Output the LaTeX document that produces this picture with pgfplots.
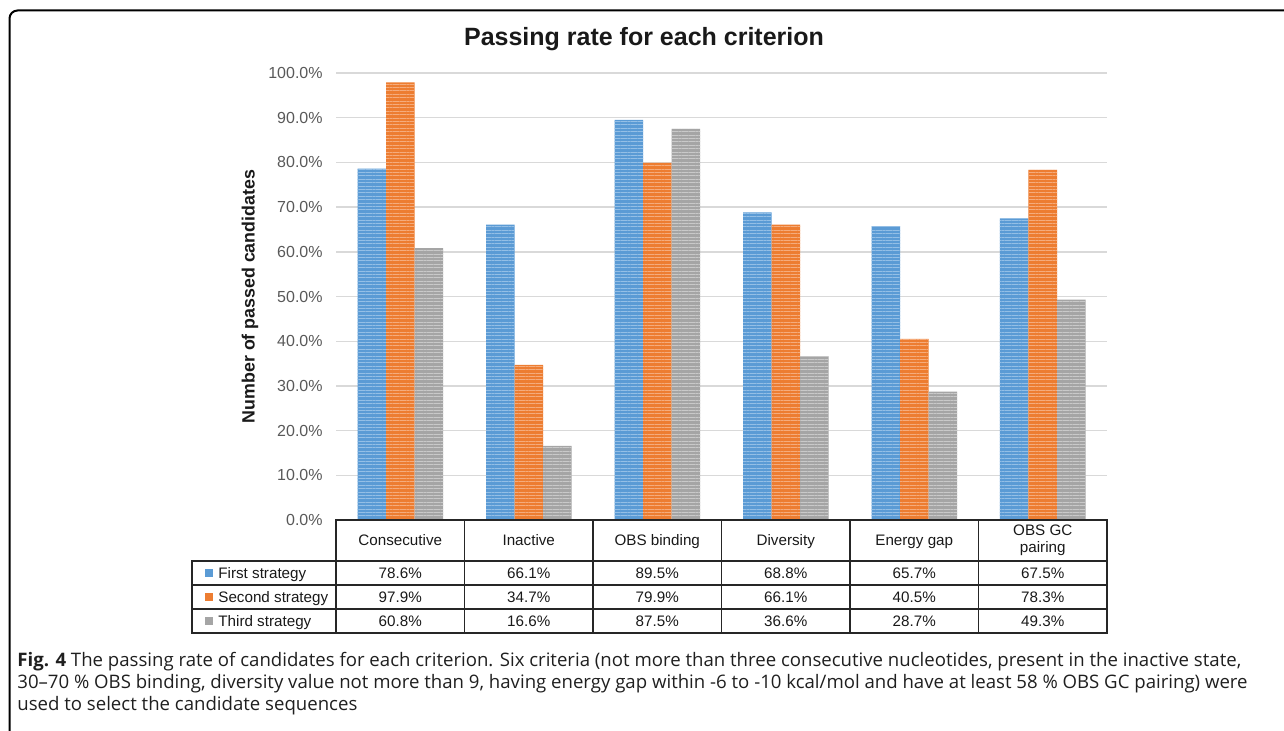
\documentclass[border=0pt]{standalone}
\usepackage{fontspec}
\usepackage{pgfplots}
\usepackage{pgfplotstable}
\pgfplotsset{compat=1.18}
\usetikzlibrary{patterns.meta}
\setmainfont{Liberation Sans}
\newfontfamily\capfont{Open Sans}

\definecolor{sblue}{HTML}{5B9BD5}
\definecolor{sorange}{HTML}{ED7D31}
\definecolor{sgrey}{HTML}{A5A5A5}
\definecolor{lblue}{HTML}{94BFE6}
\definecolor{lorange}{HTML}{F5AC7C}
\definecolor{lgrey}{HTML}{C9C9C9}
\definecolor{gridgrey}{HTML}{D9D9D9}
\definecolor{ticktext}{HTML}{595959}
\definecolor{tabline}{HTML}{262626}

% passing rates (%) per criterion
\pgfplotstableread{
x first second third
0 78.6 97.9 60.8
1 66.1 34.7 16.6
2 89.5 79.9 87.5
3 68.8 66.1 36.6
4 65.7 40.5 28.7
5 67.5 78.3 49.3
}\rates

\begin{document}
\begin{tikzpicture}[x=0.5pt,y=0.5pt]
\useasboundingbox (0,0) rectangle (1284,730);

% frame
\draw[line width=1pt, rounded corners=4pt] (1300,719.5) -- (9.5,719.5) -- (9.5,-20);

\begin{axis}[
    at={(168pt,105pt)}, anchor=south west,
    scale only axis, width=385.5pt, height=223.5pt,
    ybar=0pt, bar width=14.25pt,
    xmin=-0.5, xmax=5.5, ymin=0, ymax=100,
    xtick=\empty,
    ytick={0,10,...,100},
    yticklabel={\pgfmathprintnumber[fixed,fixed zerofill,precision=1]{\tick}\%},
    /pgf/number format/assume math mode=true,
    yticklabel style={font=\fontsize{8}{9}\selectfont, text=ticktext, inner sep=0pt, xshift=-6.5pt},
    major tick length=0pt,
    axis line style={draw=none},
    ymajorgrids, grid style={draw=gridgrey, line width=0.7pt},
    clip=false,
]
\addplot[fill=sblue, draw=none, postaction={pattern color=lblue, pattern={Lines[angle=0,distance=1.7pt,line width=0.45pt]}}]
    table[x=x, y=first] {\rates};
\addplot[fill=sorange, draw=none, postaction={pattern color=lorange, pattern={Lines[angle=0,distance=1.7pt,line width=0.45pt]}}]
    table[x=x, y=second] {\rates};
\addplot[fill=sgrey, draw=none, postaction={pattern color=lgrey, pattern={Lines[angle=0,distance=1.7pt,line width=0.45pt]}}]
    table[x=x, y=third] {\rates};
\end{axis}

% title and y label
\node[anchor=base, font=\bfseries\fontsize{12.5}{15}\selectfont, text=black!90] at (644,684) {Passing rate for each criterion};
\node[rotate=90, font=\bfseries\fontsize{8.9}{10}\selectfont, text=black!90] at (250,433.5) {Number of passed candidates};

% data table
\begin{scope}[draw=tabline, line width=0.7pt]
\draw (336,210) rectangle (1107,169);
\draw (192,169) rectangle (1107,97);
\draw (192,145) -- (1107,145);
\draw (192,121) -- (1107,121);
\foreach \k in {1,...,5} \draw (336+128.5*\k,210) -- (336+128.5*\k,97);
\draw (336,169) -- (336,97);
\end{scope}

\begin{scope}[font=\fontsize{7.6}{9}\selectfont, text=black!90]
\foreach \lab [count=\i from 0] in {Consecutive,Inactive,OBS binding,Diversity,Energy gap}
  \node[anchor=base, inner sep=0pt] at (400.25+128.5*\i,184.1) {\lab};
\node[align=center, font=\fontsize{7.6}{8.6}\selectfont] at (400.25+128.5*5,189.5) {OBS GC\\pairing};

\fill[sblue] (205,153) rectangle (213,161);
\fill[sorange] (205,129) rectangle (213,137);
\fill[sgrey] (205,105) rectangle (213,113);
\node[anchor=base west, inner sep=0pt] at (218,151.6) {First strategy};
\node[anchor=base west, inner sep=0pt] at (218,127.6) {Second strategy};
\node[anchor=base west, inner sep=0pt] at (218,103.6) {Third strategy};

\foreach \r in {0,...,5}{
  \foreach \c/\yy in {first/151.6,second/127.6,third/103.6}{
    \pgfplotstablegetelem{\r}{\c}\of\rates
    \node[anchor=base, inner sep=0pt] at (400.25+128.5*\r,\yy) {\pgfmathprintnumber[fixed,fixed zerofill,precision=1,assume math mode=true]{\pgfplotsretval}\%};
  }
}
\end{scope}

% caption
\begin{scope}[font=\capfont\fontsize{9.3}{10}\selectfont, text=black!88]
\node[anchor=base west, inner sep=0pt] at (17,64) {\textbf{Fig. 4} The passing rate of candidates for each criterion. Six criteria (not more than three consecutive nucleotides, present in the inactive state,};
\node[anchor=base west, inner sep=0pt] at (17,42) {30–70 \% OBS binding, diversity value not more than 9, having energy gap within -6 to -10 kcal/mol and have at least 58 \% OBS GC pairing) were};
\node[anchor=base west, inner sep=0pt] at (17,20) {used to select the candidate sequences};
\end{scope}
\end{tikzpicture}
\end{document}
